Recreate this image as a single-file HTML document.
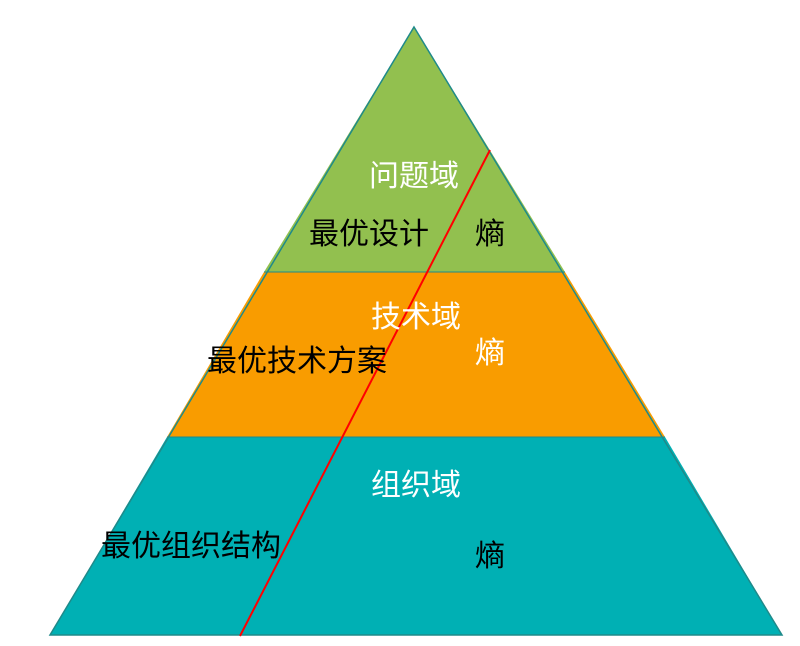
<!DOCTYPE html>
<html><head><meta charset="utf-8"><style>
html,body{margin:0;padding:0;background:#fff;}
svg{display:block;}
text{font-family:"Liberation Sans","Noto Sans CJK SC",sans-serif;font-size:30px;}
</style></head><body>
<svg width="800" height="646" viewBox="0 0 800 646">
<polygon points="414,27 565,272 264,272" fill="#92c04f"/>
<polygon points="264,272 565,272 665,437 167,437" fill="#f99c00"/>
<polygon points="167,437 665,437 782,635 50,635" fill="#00b0b4"/>
<polygon points="414,27 782,635 50,635" fill="none" stroke="#1f8a8a" stroke-width="1.5"/>
<line x1="264" y1="272" x2="565" y2="272" stroke="#1f8a8a" stroke-width="1"/>
<line x1="167" y1="437" x2="665" y2="437" stroke="#1f8a8a" stroke-width="1"/>
<line x1="490" y1="150" x2="240" y2="636" stroke="#ff0000" stroke-width="2"/>
<text x="369" y="186" fill="#fff">问题域</text>
<text x="309" y="244" fill="#000">最优设计</text>
<text x="475" y="244" fill="#000">熵</text>
<text x="371" y="327" fill="#fff">技术域</text>
<text x="207" y="371" fill="#000">最优技术方案</text>
<text x="475" y="363" fill="#fff">熵</text>
<text x="371" y="495" fill="#fff">组织域</text>
<text x="101" y="556" fill="#000">最优组织结构</text>
<text x="475" y="566" fill="#000">熵</text>
</svg>
</body></html>
